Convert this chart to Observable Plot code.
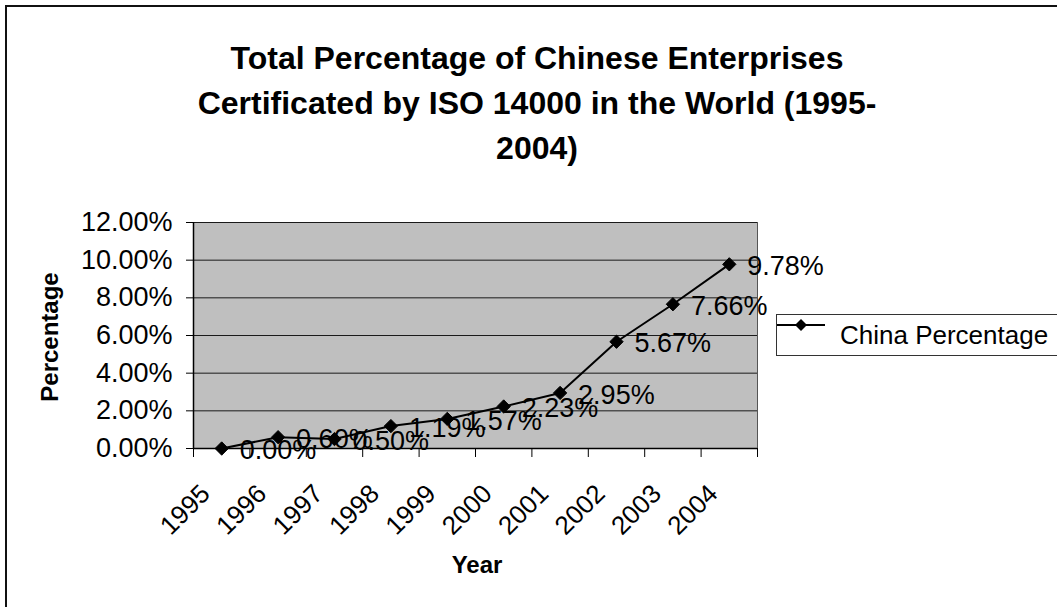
<!DOCTYPE html>
<html>
<head>
<meta charset="utf-8">
<script src="https://cdn.jsdelivr.net/npm/d3@7"></script>
<script src="https://cdn.jsdelivr.net/npm/@observablehq/plot@0.6"></script>
<style>
  html, body { margin: 0; padding: 0; background: #fff; }
  #wrap { position: relative; width: 1057px; height: 607px; overflow: hidden;
          font-family: "Liberation Sans", Arial, sans-serif; color: #000; }
  #wrap svg { position: absolute; left: 0; top: 0; }
  .border { position: absolute; left: 5px; top: 5px; width: 1100px; height: 700px;
            border-left: 2px solid #111; border-top: 2px solid #111; }
  .title { position: absolute; left: 137px; width: 800px; top: 36px; text-align: center;
           font-weight: bold; font-size: 32px; line-height: 45px; }
  .ytitle { position: absolute; left: 50px; top: 337px; font-weight: bold; font-size: 24px;
            transform: translate(-50%, -50%) rotate(-90deg); white-space: nowrap; }
  .xtitle { position: absolute; left: 477px; top: 565px; font-weight: bold; font-size: 24px;
            transform: translate(-50%, -50%); white-space: nowrap; }
  .legend { position: absolute; left: 776px; top: 314px; width: 320px; height: 40px;
            border: 1.5px solid #333; background: #fff; }
  .legend svg { position: absolute; left: 8px; top: 10px; }
  .legend span { position: absolute; left: 63px; top: 4px; font-size: 26px; line-height: 32px; white-space: nowrap; }
</style>
</head>
<body>
<div id="wrap">
  <div class="border"></div>
  <div class="title">Total Percentage of Chinese Enterprises<br>Certificated by ISO 14000 in the World (1995-<br>2004)</div>
  <div class="ytitle">Percentage</div>
  <div class="xtitle">Year</div>
</div>
<script>
const years = [1995, 1996, 1997, 1998, 1999, 2000, 2001, 2002, 2003, 2004];
const chinaPercentage = [0.0000, 0.0060, 0.0050, 0.0119, 0.0157, 0.0223, 0.0295, 0.0567, 0.0766, 0.0978];
const yTicks = [0, 0.02, 0.04, 0.06, 0.08, 0.10, 0.12];
const seriesName = "China Percentage";

const data = years.map((y, i) => ({year: y, value: chinaPercentage[i]}));
const bandEdges = years.map(y => y - 0.5).concat([years[years.length - 1] + 0.5]);
const pct = d3.format(".2%");
const FONT = "Liberation Sans, Arial, sans-serif";

const chart = Plot.plot({
  width: 1057,
  height: 607,
  marginLeft: 193,
  marginRight: 300,
  marginTop: 222,
  marginBottom: 159,
  style: {fontFamily: FONT, color: "#000", background: "transparent", overflow: "visible"},
  x: {domain: [bandEdges[0], bandEdges[bandEdges.length - 1]]},
  y: {domain: [0, 0.12]},
  marks: [
    Plot.frame({fill: "#bfbfbf", stroke: "#555"}),
    Plot.gridY(yTicks, {stroke: "#1a1a1a", strokeOpacity: 1, strokeWidth: 1}),
    Plot.ruleY([0], {stroke: "#000", strokeWidth: 1.5}),
    Plot.ruleX([bandEdges[0]], {stroke: "#000", strokeWidth: 1.5}),
    Plot.axisY({ticks: yTicks, tickFormat: pct, tickSize: 7, tickPadding: 14, fontSize: 27, label: null}),
    Plot.axisX({ticks: bandEdges, tickFormat: () => "", tickSize: 9, label: null}),
    Plot.axisX({ticks: years, tickFormat: d => String(d), tickSize: 0, tickPadding: 41, tickRotate: -45, dx: -16, fontSize: 26, label: null}),
    Plot.line(data, {x: "year", y: "value", stroke: "#000", strokeWidth: 2}),
    Plot.dot(data, {x: "year", y: "value", symbol: "diamond2", r: 6, fill: "#000", stroke: "#000", strokeWidth: 1}),
    Plot.text(data, {x: "year", y: "value", text: d => pct(d.value), textAnchor: "start", dx: 18, dy: 2, fontSize: 27, fill: "#000"})
  ]
});
document.getElementById("wrap").appendChild(chart);

// legend
const leg = document.createElement("div");
leg.className = "legend";
leg.innerHTML = '<svg width="50" height="20"><line x1="0" y1="10" x2="48" y2="10" stroke="#000" stroke-width="2"/><path d="M24,4 L30,10 L24,16 L18,10 Z" fill="#000"/></svg><span></span>';
leg.querySelector("span").textContent = seriesName;
document.getElementById("wrap").appendChild(leg);
</script>
</body>
</html>
